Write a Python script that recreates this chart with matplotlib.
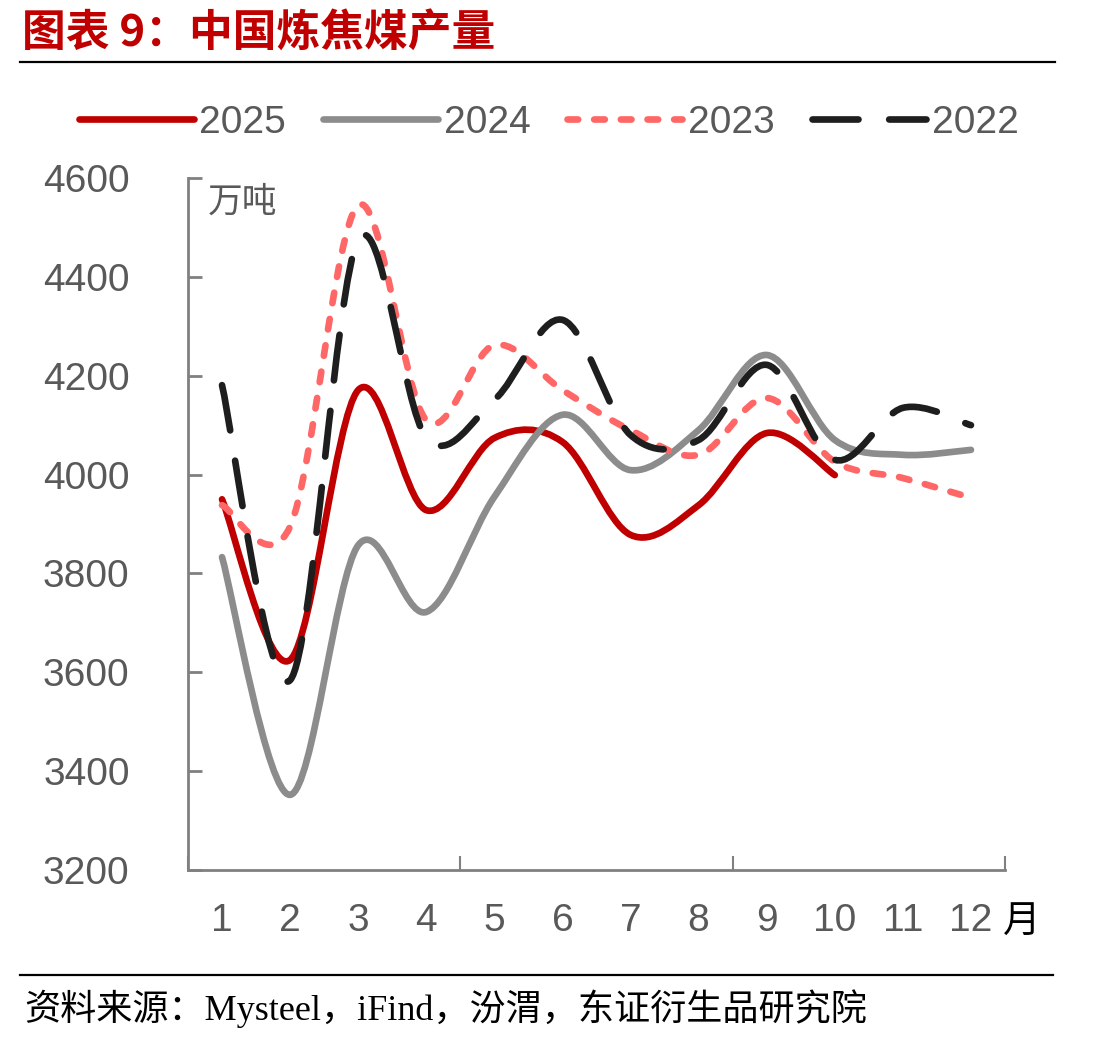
import matplotlib

matplotlib.use("Agg")
import matplotlib.pyplot as plt
import numpy as np
from matplotlib.lines import Line2D
from matplotlib.patches import PathPatch
from matplotlib.path import Path

plt.rcParams["font.family"] = ["Liberation Sans", "Noto Sans CJK SC"]

months = list(range(1, 13))
month_labels = [str(m) for m in months]
y_ticks = [3200, 3400, 3600, 3800, 4000, 4200, 4400, 4600]

v2025 = [3950, 3625, 4171, 3928, 4074, 4066, 3878, 3938, 4084, 3999]
v2024 = [3833, 3352, 3857, 3722, 3955, 4121, 4009, 4090, 4242, 4070, 4040, 4050]
v2023 = [3938, 3895, 4545, 4110, 4262, 4171, 4090, 4040, 4155, 4026, 3993, 3953]
v2022 = [4181, 3584, 4475, 4075, 4151, 4313, 4080, 4070, 4222, 4030, 4135, 4100]

series = [
    ("2025", v2025, "#c00000", "-"),
    ("2024", v2024, "#8c8c8c", "-"),
    ("2023", v2023, "#ff6666", (0, (1.6, 2.4))),
    ("2022", v2022, "#1e1e1e", (0, (6.9, 4.6))),
]


def smooth_path(xs, ys):
    # catmull-rom style bezier, like excel's "smoothed line"
    pts = np.column_stack([xs, ys]).astype(float)
    verts = [pts[0]]
    codes = [Path.MOVETO]
    n = len(pts)
    for i in range(n - 1):
        p0 = pts[i - 1] if i > 0 else pts[i]
        p1 = pts[i]
        p2 = pts[i + 1]
        p3 = pts[i + 2] if i + 2 < n else pts[i + 1]
        c1 = p1 + (p2 - p0) / 6.0
        c2 = p2 - (p3 - p1) / 6.0
        verts += [c1, c2, p2]
        codes += [Path.CURVE4] * 3
    return Path(verts, codes)


fig = plt.figure(figsize=(10.98, 10.40), dpi=100)
ax = fig.add_axes([0.1712, 0.1635, 0.9153 - 0.1712, 0.8288 - 0.1635])

lw = 4.8
for name, vals, color, ls in series:
    p = smooth_path(months[: len(vals)], vals)
    ax.add_patch(PathPatch(p, fill=False, edgecolor=color, linewidth=lw,
                           linestyle=ls, capstyle="round", joinstyle="round"))

ax.set_xlim(0.5, 12.5)
ax.set_ylim(3200, 4600)

for s in ["top", "right"]:
    ax.spines[s].set_visible(False)
for s in ["left", "bottom"]:
    ax.spines[s].set_color("#808080")
    ax.spines[s].set_linewidth(2)

ax.set_yticks(y_ticks)
ax.set_yticklabels([str(t) for t in y_ticks])
ax.tick_params(axis="y", direction="in", length=10, width=2, color="#808080",
               labelsize=28, labelcolor="#595959", pad=42)

ax.set_xticks([0.5, 4.5, 8.5, 12.5])
ax.set_xticklabels([])
ax.set_xticks(months, minor=True)
ax.set_xticklabels(month_labels, minor=True)
ax.tick_params(axis="x", which="major", direction="in", length=10, width=1.5, color="#808080")
ax.tick_params(axis="x", which="minor", length=0, labelsize=28, labelcolor="#595959", pad=24)

ax.text(0.997, -0.075, "月", transform=ax.transAxes, fontsize=27, color="black",
        family=["Noto Sans CJK SC"], ha="left", va="center")
ax.text(0.024, 0.99, "万吨", transform=ax.transAxes, fontsize=25, color="#595959",
        family=["Noto Sans CJK SC"], ha="left", va="top")

handles = [
    Line2D([], [], color=c, lw=lw, ls=ls, solid_capstyle="round", dash_capstyle="round")
    for _, _, c, ls in series
]
fig.legend(handles, [s[0] for s in series], loc="center", bbox_to_anchor=(0.5, 0.882),
           ncol=4, frameon=False, fontsize=28, handlelength=2.95, handletextpad=0.15,
           columnspacing=0.95, labelcolor="#595959")

fig.text(0.02, 0.968, "图表 9：中国炼焦煤产量", fontsize=31.5, fontweight="bold",
         color="#c00000", family=["Noto Sans CJK SC"], ha="left", va="center")
fig.add_artist(Line2D([0.018, 0.961], [0.940, 0.940], color="black", lw=1.6))
fig.add_artist(Line2D([0.018, 0.959], [0.0625, 0.0625], color="black", lw=1.6))
fig.text(0.022, 0.030, "资料来源：Mysteel，iFind，汾渭，东证衍生品研究院", fontsize=26,
         color="black", family=["Liberation Serif", "Noto Sans CJK SC"],
         ha="left", va="center")

fig.savefig("out.png", dpi=100)
